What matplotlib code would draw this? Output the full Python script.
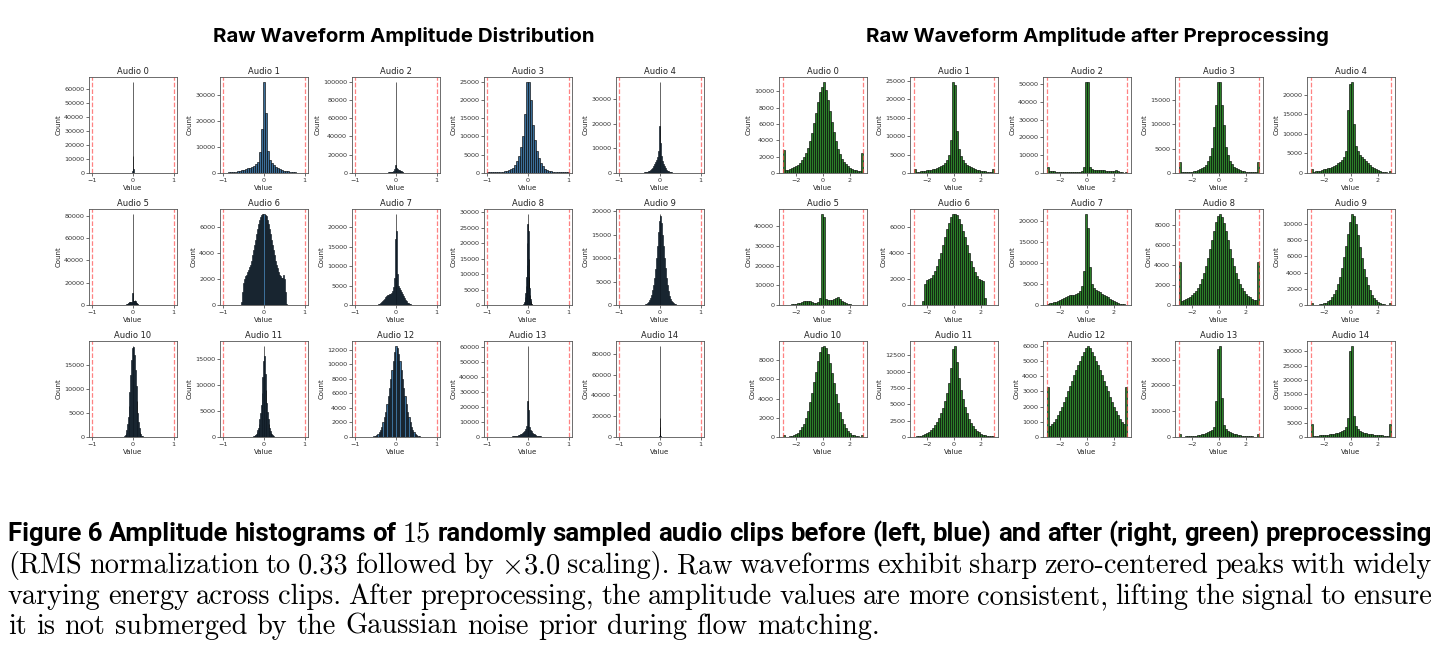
import numpy as np
import matplotlib
matplotlib.use("Agg")
import matplotlib.pyplot as plt
from matplotlib.ticker import MaxNLocator

# ---------- data ----------
clip_names = ["Audio %d" % i for i in range(15)]

# raw waveforms: histogram range (lo, hi) and bin counts per clip
raw_ranges = [(-0.05, 0.05), (-0.975, 0.975), (-0.3, 0.3), (-1.0, 1.0), (-0.5, 0.5),
              (-0.25, 0.25), (-0.56, 0.56), (-0.5, 0.5), (-0.155, 0.155), (-0.5, 0.5),
              (-0.3, 0.3), (-0.35, 0.35), (-0.65, 0.65), (-0.6, 0.6), (-0.05, 0.05)]
raw_counts = [
    [20, 80, 300, 1500, 12000, 65000, 3000, 300, 80, 20],
    [80, 150, 220, 300, 420, 550, 700, 900, 1100, 1300, 1550, 1800, 2100, 2400, 2800, 3400, 4200,
     8000, 17000, 35000, 23000, 8500, 5000, 3800, 3000, 2400, 1900, 1500, 1200, 950, 750, 580,
     450, 330, 240, 170, 110, 70, 40],
    [100, 200, 300, 400, 500, 600, 700, 800, 900, 1000, 1200, 1500, 2000, 4000, 9000, 100000,
     6000, 4000, 3000, 2800, 2500, 2200, 2000, 1500, 800, 300, 150, 80, 40, 20, 10],
    [300, 400, 350, 300, 250, 250, 300, 350, 450, 600, 800, 1100, 1500, 2200, 3200, 4700, 7000,
     10000, 16000, 25000, 25000, 20000, 13000, 9000, 6000, 4000, 2700, 1800, 1200, 850, 600, 450,
     350, 300, 250, 250, 300, 300, 350, 300],
    [50, 80, 120, 180, 250, 350, 450, 600, 800, 1000, 1300, 1700, 2200, 2800, 3500, 4300, 5300,
     6500, 9000, 19000, 37000, 12000, 7000, 5000, 3800, 2800, 2000, 1400, 1000, 700, 500, 350,
     250, 180, 120, 80, 50, 30, 20, 10, 5],
    [20, 40, 60, 100, 150, 250, 400, 600, 900, 1300, 1800, 2200, 2500, 2700, 2600, 2400, 2200,
     2300, 2600, 11000, 82000, 4000, 3500, 3800, 4200, 3600, 2800, 2000, 1400, 900, 600, 400,
     250, 150, 100, 60, 40, 20, 10, 5, 5],
    [200, 1000, 1700, 2000, 2200, 2300, 2500, 2700, 2900, 3100, 3400, 3800, 4200, 4600, 5000,
     5400, 5800, 6200, 6500, 6700, 6900, 7000, 7000, 6900, 6800, 6500, 6200, 5800, 5400, 5000,
     4600, 4200, 3800, 3400, 3100, 2800, 2500, 2300, 2200, 2100, 2100, 2300, 2000, 1000, 100],
    [50, 100, 200, 300, 450, 650, 900, 1200, 1600, 2000, 2300, 2500, 2600, 2700, 2800, 3000,
     3500, 4500, 7000, 17000, 23500, 19000, 8000, 5000, 4300, 3800, 3300, 2800, 2300, 1800, 1300,
     900, 600, 400, 250, 150, 80, 40, 20, 10, 5],
    [10, 30, 60, 120, 250, 500, 900, 1500, 2500, 4000, 6000, 9000, 13000, 20000, 26000, 29500,
     24000, 15000, 9000, 5500, 3300, 2000, 1200, 700, 400, 200, 100, 50, 25, 10, 5],
    [5, 10, 20, 40, 80, 150, 250, 400, 650, 1000, 1500, 2200, 3100, 4300, 5800, 7700, 10000,
     12600, 15500, 18000, 19500, 19000, 17500, 15000, 12500, 10000, 7800, 5800, 4200, 3000, 2000,
     1300, 850, 550, 350, 200, 120, 70, 40, 20, 10],
    [5, 15, 40, 100, 200, 400, 800, 1500, 2600, 4200, 6500, 9400, 12800, 16000, 18500, 19000,
     18800, 17000, 14000, 10500, 7500, 5000, 3100, 1800, 1000, 550, 280, 130, 60, 25, 10],
    [5, 10, 20, 40, 70, 120, 200, 300, 450, 650, 900, 1300, 1800, 2500, 3400, 4600, 6200, 8500,
     11500, 14500, 17500, 15500, 12000, 9000, 6500, 4700, 3400, 2400, 1700, 1200, 800, 550, 370,
     240, 150, 90, 50, 30, 15, 8, 4],
    [10, 20, 40, 80, 150, 250, 400, 650, 1000, 1400, 2000, 2700, 3500, 4500, 5600, 6800, 8000,
     9300, 10500, 11700, 12600, 12200, 11500, 10500, 9300, 8000, 6800, 5600, 4500, 3500, 2700,
     2000, 1400, 1000, 650, 400, 250, 150, 80, 40, 20],
    [20, 30, 50, 80, 120, 170, 230, 300, 380, 470, 580, 700, 850, 1000, 1200, 1400, 1700, 2000,
     2500, 3200, 4200, 5500, 7500, 24000, 61000, 18000, 7000, 5000, 3800, 2900, 2200, 1700, 1300,
     1000, 800, 620, 480, 370, 280, 210, 150, 110, 80, 60, 40, 30, 20, 10, 5],
    [5, 10, 20, 40, 80, 150, 300, 700, 2000, 10000, 88000, 18000, 3000, 800, 300, 150, 80, 40,
     20, 10, 5],
]

# preprocessed waveforms: all clipped to [-3, 3], 40 bins
pre_range = (-3.0, 3.0)
pre_counts = [
    [2800, 350, 400, 480, 560, 680, 820, 1000, 1250, 1550, 1950, 2450, 3100, 3900, 4900, 6100,
     7400, 8700, 9900, 10500, 11200, 10200, 9000, 7600, 6200, 5000, 3900, 3000, 2300, 1750, 1350,
     1050, 820, 650, 520, 420, 350, 300, 260, 2500],
    [1000, 300, 350, 420, 500, 580, 680, 780, 900, 1050, 1200, 1400, 1650, 1900, 2300, 2800,
     3500, 5000, 9000, 24800, 24000, 11500, 6500, 4500, 3400, 2700, 2200, 1800, 1500, 1250, 1050,
     880, 740, 620, 520, 440, 370, 320, 280, 1000],
    [3500, 1000, 900, 850, 800, 750, 700, 680, 650, 640, 620, 600, 600, 620, 650, 700, 800, 1000,
     3500, 51000, 51500, 3200, 2200, 1900, 1800, 1800, 1900, 1800, 1600, 1400, 1200, 1000, 900,
     1100, 1500, 1300, 600, 300, 200, 300],
    [2300, 120, 140, 170, 200, 240, 290, 360, 450, 570, 730, 950, 1250, 1700, 2400, 3500, 5200,
     9500, 14000, 18800, 18800, 14000, 9800, 5300, 3600, 2500, 1800, 1300, 980, 750, 580, 450,
     350, 280, 220, 180, 150, 130, 120, 2300],
    [1000, 300, 400, 500, 620, 750, 900, 1050, 1200, 1400, 1600, 1850, 2100, 2450, 2850, 3300,
     4000, 5500, 16000, 22800, 23300, 12500, 7000, 5500, 4700, 4100, 3500, 3000, 2500, 2000,
     1600, 1250, 950, 700, 500, 350, 250, 180, 120, 500],
    [0, 100, 150, 200, 300, 450, 650, 900, 1200, 1600, 2000, 2100, 2000, 1800, 1500, 1200, 1100,
     1400, 3800, 46500, 45000, 3000, 2500, 2500, 2700, 3000, 3800, 4100, 3200, 2200, 1400, 900,
     600, 400, 250, 150, 80, 40, 20, 0],
    [0, 0, 0, 0, 300, 1600, 1900, 2000, 2100, 2300, 2600, 3000, 3500, 4000, 4600, 5200, 5800,
     6300, 6700, 6950, 7000, 6900, 6600, 6200, 5700, 5200, 4600, 4000, 3400, 2900, 2500, 2200,
     2000, 1900, 1800, 500, 0, 0, 0, 0],
    [300, 400, 500, 600, 750, 900, 1100, 1400, 1700, 2000, 2200, 2300, 2300, 2400, 2600, 2900,
     3400, 4500, 8000, 21800, 18300, 9000, 5000, 4000, 3600, 3300, 3000, 2700, 2400, 2100, 1800,
     1500, 1200, 900, 650, 450, 300, 200, 120, 80],
    [4300, 400, 450, 550, 650, 800, 950, 1150, 1400, 1700, 2100, 2600, 3200, 3900, 4700, 5600,
     6500, 7400, 8300, 8900, 9100, 8800, 8200, 7400, 6500, 5600, 4700, 3900, 3200, 2600, 2100,
     1700, 1350, 1100, 900, 750, 620, 520, 450, 4300],
    [300, 20, 30, 50, 80, 130, 200, 300, 450, 650, 950, 1350, 1900, 2600, 3500, 4600, 5900, 7300,
     8800, 10200, 11300, 11000, 10000, 8700, 7200, 5800, 4500, 3400, 2500, 1800, 1250, 850, 560,
     370, 240, 150, 90, 60, 40, 300],
    [200, 20, 40, 70, 120, 200, 300, 450, 700, 1000, 1400, 2000, 2700, 3600, 4600, 5700, 6800,
     7900, 8800, 9400, 9500, 9200, 8600, 7700, 6700, 5600, 4500, 3500, 2600, 1900, 1300, 900,
     600, 400, 250, 160, 100, 60, 40, 200],
    [50, 80, 130, 200, 300, 420, 580, 780, 1050, 1400, 1800, 2300, 2900, 3600, 4500, 5500, 6700,
     8200, 10500, 13500, 14000, 11500, 9000, 7200, 5800, 4600, 3600, 2800, 2150, 1650, 1250, 950,
     700, 520, 380, 280, 200, 140, 100, 80],
    [3300, 700, 850, 1000, 1200, 1450, 1700, 2000, 2300, 2650, 3000, 3350, 3700, 4050, 4400,
     4700, 5000, 5300, 5600, 5850, 6000, 5850, 5600, 5300, 5000, 4700, 4400, 4050, 3700, 3350,
     3000, 2650, 2300, 2000, 1700, 1450, 1200, 1000, 850, 3300],
    [1000, 150, 180, 220, 270, 330, 400, 480, 580, 700, 850, 1000, 1200, 1450, 1800, 2200, 2800,
     3800, 14000, 34000, 35500, 15000, 4500, 3200, 2500, 2000, 1600, 1300, 1050, 850, 700, 570,
     460, 380, 310, 250, 200, 160, 130, 1000],
    [4500, 400, 450, 500, 560, 630, 700, 780, 870, 970, 1080, 1200, 1350, 1550, 1800, 2100, 2600,
     3500, 6500, 30000, 32000, 7500, 3700, 2700, 2200, 1800, 1550, 1350, 1200, 1050, 930, 830,
     740, 660, 590, 530, 480, 440, 400, 4500],
]

raw_clip = 1.0
pre_clip = 3.0
raw_xticks = [-1, 0, 1]
pre_xticks = [-2, 0, 2]

title_left = "Raw Waveform Amplitude Distribution"
title_right = "Raw Waveform Amplitude after Preprocessing"

caption_1 = ("Figure 6", "Amplitude histograms of", "15", "randomly sampled audio clips before "
             "(left, blue) and after (right, green) preprocessing")
caption_2 = ("(RMS normalization to 0.33 followed by $\\times$3.0 scaling). Raw waveforms exhibit "
             "sharp zero-centered peaks with widely")
caption_3 = ("varying energy across clips. After preprocessing, the amplitude values are more "
             "consistent, lifting the signal to ensure")
caption_4 = "it is not submerged by the Gaussian noise prior during flow matching."

# ---------- layout (pixels) ----------
W, H = 1446, 660
plt.rcParams["mathtext.fontset"] = "cm"
fig = plt.figure(figsize=(W / 100, H / 100), dpi=100)

raw_lefts = [89, 220, 352, 484, 616]
pre_lefts = [779, 910, 1043, 1175, 1307]
row_tops = [77, 209, 341]
PW, PH = 88, 96


def add_panel(x, y):
    return fig.add_axes([x / W, 1 - (y + PH) / H, PW / W, PH / H])


def draw_hist(ax, lo, hi, counts, color, clip, xlim, xticks, name):
    edges = np.linspace(lo, hi, len(counts) + 1)
    ax.bar(edges[:-1], counts, width=np.diff(edges), align="edge",
           facecolor=color, edgecolor=(0, 0, 0, 0.85), linewidth=0.5)
    ax.axvline(-clip, color="#ff4d4d", ls="--", lw=0.9, alpha=0.7)
    ax.axvline(clip, color="#ff4d4d", ls="--", lw=0.9, alpha=0.7)
    ax.set_xlim(-xlim, xlim)
    ax.set_xticks(xticks)
    ax.set_xticklabels([str(t).replace("-", "\u2212") for t in xticks])
    ax.yaxis.set_major_locator(MaxNLocator(nbins=7, steps=[1, 2, 2.5, 5, 10]))
    ax.tick_params(labelsize=4.6, length=2, width=0.5, pad=1.5, colors="#333333")
    for s in ax.spines.values():
        s.set_linewidth(0.6)
        s.set_color("#555555")
    ax.set_title(name, fontsize=6, pad=2.5, color="#222222")
    ax.set_ylabel("Count", fontsize=5, labelpad=2, color="#222222")
    ax.set_xlabel("Value", fontsize=5, labelpad=1.5, color="#222222")


for k in range(15):
    r, c = divmod(k, 5)
    ax = add_panel(raw_lefts[c], row_tops[r])
    lo, hi = raw_ranges[k]
    draw_hist(ax, lo, hi, raw_counts[k], "#3c6f99", raw_clip, 1.08, raw_xticks, clip_names[k])
    ax = add_panel(pre_lefts[c], row_tops[r])
    draw_hist(ax, pre_range[0], pre_range[1], pre_counts[k], "#2b7f29", pre_clip, 3.3,
              pre_xticks, clip_names[k])

fig.text(404 / W, 1 - 37 / H, title_left, ha="center", va="center", fontfamily="Inter",
         fontweight="bold", fontsize=14.7)
fig.text(1097 / W, 1 - 37 / H, title_right, ha="center", va="center", fontfamily="Inter",
         fontweight="bold", fontsize=14.7)

# ---------- caption, justified line by line ----------
renderer = fig.canvas.get_renderer()
X0, X1 = 8, 1432
sans_bold = dict(fontfamily="Roboto", fontweight="bold", fontsize=18.5)
serif = dict(fontfamily="cmr10", fontsize=20.4)


def justify(y, pieces, justified=True):
    arts = [fig.text(0, 1 - y / H, t, va="baseline", **kw) for t, kw in pieces]
    widths = [a.get_window_extent(renderer).width for a in arts]
    if justified:
        gap = (X1 - X0 - sum(widths)) / (len(arts) - 1)
    else:
        probe_a = fig.text(0, 0, "a a", **pieces[0][1])
        probe_b = fig.text(0, 0, "aa", **pieces[0][1])
        gap = probe_a.get_window_extent(renderer).width - probe_b.get_window_extent(renderer).width
        probe_a.remove()
        probe_b.remove()
    x = X0
    for a, w in zip(arts, widths):
        a.set_x(x / W)
        x += w + gap


line1 = [(caption_1[0], sans_bold)]
line1 += [(w, sans_bold) for w in caption_1[1].split()]
line1 += [(caption_1[2], serif)]
line1 += [(w, sans_bold) for w in caption_1[3].split()]
justify(541, line1)
justify(573, [(w, serif) for w in caption_2.split()])
justify(604, [(w, serif) for w in caption_3.split()])
justify(634, [(w, serif) for w in caption_4.split()], justified=False)

fig.savefig("out.png", dpi=100)
